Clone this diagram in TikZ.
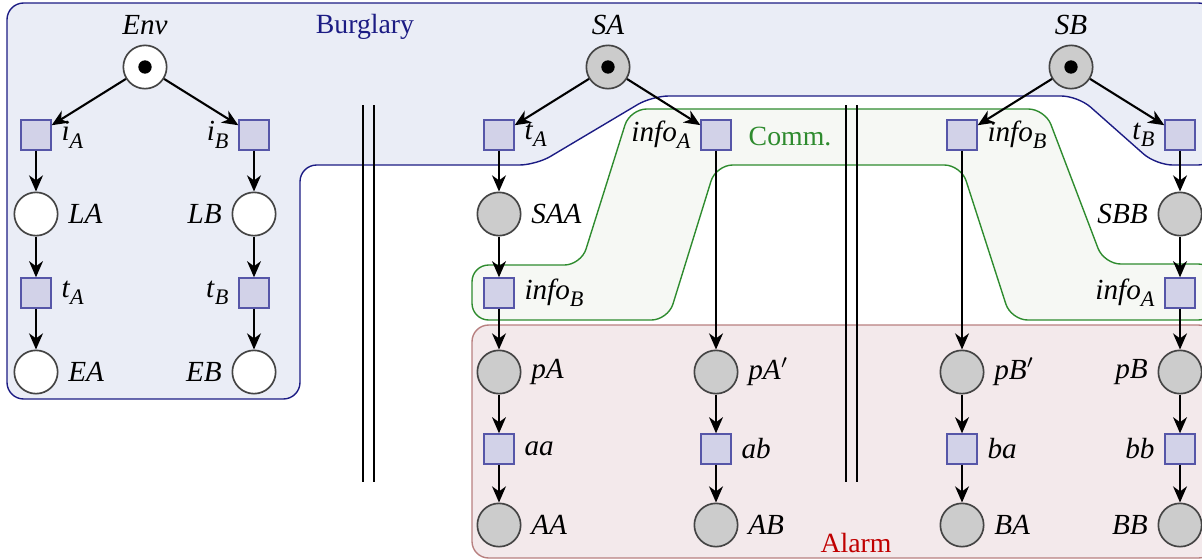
\documentclass[tikz,border=0pt]{standalone}
\usepackage{fontspec}
\setmainfont{Liberation Serif}
\usetikzlibrary{arrows.meta}

\definecolor{burgfill}{HTML}{EAEDF6}
\definecolor{burgline}{HTML}{1C1C84}
\definecolor{commfill}{HTML}{F6F8F4}
\definecolor{commline}{HTML}{2E8B2E}
\definecolor{alarmfill}{HTML}{F3E9EB}
\definecolor{alarmline}{HTML}{B88080}
\definecolor{alarmtext}{HTML}{C00000}
\definecolor{placefill}{HTML}{CCCCCC}
\definecolor{placeline}{HTML}{444444}
\definecolor{transfill}{HTML}{D2D2E8}
\definecolor{transline}{HTML}{5656A8}

\newcommand{\lbl}[2]{\textit{#1}\raisebox{-0.55ex}{\footnotesize\textit{#2}}}

\tikzset{
  place/.style={circle,draw=placeline,fill=placefill,line width=0.6pt,
    minimum size=15.6pt,inner sep=0pt},
  envplace/.style={place,fill=white},
  marked/.style={path picture={\fill[black]
    (path picture bounding box.center) circle (2.4pt);}},
  trans/.style={rectangle,draw=transline,fill=transfill,line width=0.7pt,
    minimum size=10.6pt,inner sep=0pt},
  arc/.style={-{Stealth[length=5.8pt,width=5pt,inset=1.8pt]},line width=0.75pt},
  bar/.style={line width=0.75pt},
  every label/.style={font=\fontsize{10.5}{12}\selectfont}
}

\begin{document}
\begin{tikzpicture}[x=0.36pt,y=-0.36pt]
\clip (0,0) rectangle (1202,559);

% regions
\draw[burgline,line width=0.5pt,fill=burgfill,rounded corners=6pt]
  (7,3) -- (1215,3) -- (1215,165) -- (1156,165) -- (1078,96) -- (652,96)
  -- (536,165) -- (300,165) -- (300,399) -- (7,399) -- cycle;
\draw[commline,line width=0.5pt,fill=commfill,rounded corners=6pt]
  (630,109) -- (1045,109) -- (1104,264) -- (1215,264) -- (1215,320)
  -- (1011,320) -- (961,165) -- (716,165) -- (668,320) -- (472,320)
  -- (472,265) -- (581,265) -- cycle;
\draw[alarmline,line width=0.5pt,fill=alarmfill,rounded corners=6pt]
  (472,325) rectangle (1215,558);

\node[burgline] (burglary) at (365,27) {Burglary};
\node[commline] (comm) at (790,136) {Comm.};
\node[alarmtext] (alarm) at (856,543) {Alarm};

% separators
\draw[bar] (363,105) -- (363,482);
\draw[bar] (374,105) -- (374,482);
\draw[bar] (846,105) -- (846,482);
\draw[bar] (857,105) -- (857,482);

% environment
\node[envplace,marked,label=above:\textit{Env}] (Env) at (145,67) {};
\node[trans,label=right:\lbl{i}{A}] (iA) at (36,135) {};
\node[trans,label=left:\lbl{i}{B}] (iB) at (254,135) {};
\node[envplace,label=right:\textit{LA}] (LA) at (36,214) {};
\node[envplace,label=left:\textit{LB}] (LB) at (254,214) {};
\node[trans,label=right:\lbl{t}{A}] (tA) at (36,293) {};
\node[trans,label=left:\lbl{t}{B}] (tB) at (254,293) {};
\node[envplace,label=right:\textit{EA}] (EA) at (36,372) {};
\node[envplace,label=left:\textit{EB}] (EB) at (254,372) {};

% sensor A
\node[place,marked,label=above:\textit{SA}] (SA) at (608,67) {};
\node[trans,label=right:\lbl{t}{A}] (tAA) at (499,135) {};
\node[trans,label=left:\lbl{info}{A}] (infoAs) at (716,135) {};
\node[place,label=right:\textit{SAA}] (SAA) at (499,214) {};
\node[trans,label=right:\lbl{info}{B}] (infoBr) at (499,293) {};
\node[place,label=right:\textit{pA}$'$] (pAp) at (716,372) {};
\node[place,label=right:\textit{pA}] (pA) at (499,372) {};
\node[trans,label=right:\textit{aa}] (aa) at (499,449) {};
\node[trans,label=right:\textit{ab}] (ab) at (716,449) {};
\node[place,label=right:\textit{AA}] (AA) at (499,525) {};
\node[place,label=right:\textit{AB}] (AB) at (716,525) {};

% sensor B
\node[place,marked,label=above:\textit{SB}] (SB) at (1071,67) {};
\node[trans,label=right:\lbl{info}{B}] (infoBs) at (962,135) {};
\node[trans,label=left:\lbl{t}{B}] (tBB) at (1180,135) {};
\node[place,label=left:\textit{SBB}] (SBB) at (1180,214) {};
\node[trans,label=left:\lbl{info}{A}] (infoAr) at (1180,293) {};
\node[place,label=right:\textit{pB}$'$] (pBp) at (962,372) {};
\node[place,label=left:\textit{pB}] (pB) at (1180,372) {};
\node[trans,label=right:\textit{ba}] (ba) at (962,449) {};
\node[trans,label=left:\textit{bb}] (bb) at (1180,449) {};
\node[place,label=right:\textit{BA}] (BA) at (962,525) {};
\node[place,label=left:\textit{BB}] (BB) at (1180,525) {};

% arcs
\draw[arc] (Env) -- (iA);
\draw[arc] (Env) -- (iB);
\draw[arc] (iA) -- (LA);
\draw[arc] (LA) -- (tA);
\draw[arc] (tA) -- (EA);
\draw[arc] (iB) -- (LB);
\draw[arc] (LB) -- (tB);
\draw[arc] (tB) -- (EB);

\draw[arc] (SA) -- (tAA);
\draw[arc] (SA) -- (infoAs);
\draw[arc] (tAA) -- (SAA);
\draw[arc] (SAA) -- (infoBr);
\draw[arc] (infoBr) -- (pA);
\draw[arc] (pA) -- (aa);
\draw[arc] (aa) -- (AA);
\draw[arc] (infoAs) -- (pAp);
\draw[arc] (pAp) -- (ab);
\draw[arc] (ab) -- (AB);

\draw[arc] (SB) -- (infoBs);
\draw[arc] (SB) -- (tBB);
\draw[arc] (infoBs) -- (pBp);
\draw[arc] (pBp) -- (ba);
\draw[arc] (ba) -- (BA);
\draw[arc] (tBB) -- (SBB);
\draw[arc] (SBB) -- (infoAr);
\draw[arc] (infoAr) -- (pB);
\draw[arc] (pB) -- (bb);
\draw[arc] (bb) -- (BB);
\end{tikzpicture}
\end{document}
